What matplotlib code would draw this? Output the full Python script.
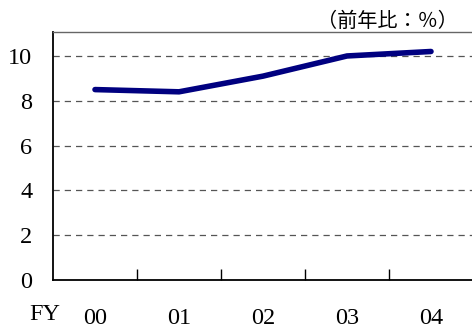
import matplotlib
matplotlib.use("Agg")
import matplotlib.pyplot as plt
import numpy as np

categories = ["00", "01", "02", "03", "04"]
values = [8.5, 8.4, 9.1, 10.0, 10.2]
yticks = [0, 2, 4, 6, 8, 10]

plt.rcParams['font.family'] = ['Liberation Serif', 'Noto Sans CJK JP', 'DejaVu Sans']

fig = plt.figure(figsize=(4.72, 3.31), dpi=100)
ax = fig.add_axes([53/472, 1 - 280/331, 420/472, 248/331])

x = np.arange(len(categories))
ax.plot(x, values, color='#000080', linewidth=4.0, solid_capstyle='round', zorder=3)

ax.set_xlim(-0.5, len(categories) - 0.5)
ax.set_ylim(0, 11.07)
ax.set_yticks(yticks)
ax.set_yticklabels([str(t) for t in yticks], fontsize=17.5)
ax.tick_params(axis='y', length=0, pad=15)
for t in yticks[1:]:
    ax.axhline(t, color='#555555', linestyle=(0, (5, 4)), linewidth=0.9, zorder=1)

ax.set_xticks(x)
ax.set_xticklabels(categories, fontsize=17.5)
ax.tick_params(axis='x', which='major', length=0, pad=20)
ax.set_xticks(np.arange(0.5, len(categories) - 0.5, 1.0), minor=True)
ax.tick_params(axis='x', which='minor', direction='in', length=8, width=1, color='black')

ax.spines['top'].set_color('#666666')
ax.spines['top'].set_linewidth(1.0)
ax.spines['left'].set_linewidth(1.3)
ax.spines['bottom'].set_linewidth(1.3)
ax.spines['right'].set_visible(False)

fig.text(45/472, 1 - 315/331, "FY", fontsize=17.5, ha='center', va='center')
fig.text(387/472, 1 - 21/331, "（前年比：％）", fontsize=14.5, ha='center', va='center',
         family=['Noto Sans CJK JP', 'DejaVu Sans'])

fig.savefig("out.png", dpi=100)
